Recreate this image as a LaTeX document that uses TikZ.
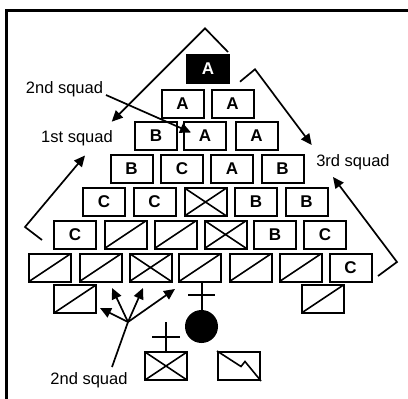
\documentclass[tikz,border=0pt]{standalone}
\usepackage{fontspec}
\setmainfont{Liberation Sans}
\usetikzlibrary{arrows.meta}
\begin{document}
\begin{tikzpicture}[x=1pt,y=-1pt,
  box/.style={draw,line width=2pt,minimum width=42pt,minimum height=28pt,inner sep=0pt,
    font=\bfseries\fontsize{17}{17}\selectfont},
  blackbox/.style={box,fill=black,text=white},
  slashbox/.style={box,path picture={\draw[line width=1.6pt] (path picture bounding box.south west) -- (path picture bounding box.north east);}},
  xbox/.style={box,path picture={\draw[line width=1.6pt] (path picture bounding box.south west) -- (path picture bounding box.north east)
      (path picture bounding box.north west) -- (path picture bounding box.south east);}},
  lbl/.style={font=\fontsize{16.5}{16.5}\selectfont,inner sep=0pt},
  brk/.style={line width=1.7pt},
  arr/.style={line width=1.7pt,-{Triangle[length=11pt,width=10pt]}},
  symline/.style={line width=2pt}
]
\useasboundingbox (0,0) rectangle (408,399);
% frame
\draw[line width=2.6pt] (6.7,399) -- (6.7,10.5) -- (408,10.5);
% row 1
\node[blackbox] (a0) at (208,68.5) {A};
% row 2
\node[box] (a1) at (182.5,103.5) {A};
\node[box] (a2) at (232.5,103.5) {A};
% row 3
\node[box] (b1) at (156,136) {B};
\node[box] (a3) at (205,136) {A};
\node[box] (a4) at (256.5,136) {A};
% row 4
\node[box] (b2) at (131.5,168.5) {B};
\node[box] (c1) at (182,168.5) {C};
\node[box] (a5) at (232,168.5) {A};
\node[box] (b3) at (282.5,168.5) {B};
% row 5
\node[box] (c2) at (104,202) {C};
\node[box] (c3) at (154.5,202) {C};
\node[xbox] (x1) at (205.5,202) {};
\node[box] (b4) at (256,202) {B};
\node[box] (b5) at (306.5,202) {B};
% row 6
\node[box] (c4) at (75,234.5) {C};
\node[slashbox] (s1) at (125.5,234.5) {};
\node[slashbox] (s2) at (175.5,234.5) {};
\node[xbox] (x2) at (225.5,234.5) {};
\node[box] (b6) at (275,234.5) {B};
\node[box] (c5) at (325,234.5) {C};
% row 7
\node[slashbox] (s3) at (50,267.5) {};
\node[slashbox] (s4) at (100.5,267.5) {};
\node[xbox] (x3) at (150.5,267.5) {};
\node[slashbox] (s5) at (200,267.5) {};
\node[slashbox] (s6) at (250.5,267.5) {};
\node[slashbox] (s7) at (300.5,267.5) {};
\node[box] (c6) at (350.5,267.5) {C};
% row 8
\node[slashbox] (s8) at (75,299) {};
\node[slashbox] (s9) at (322.5,299) {};
% platoon leader circle
\node[circle,fill=black,minimum size=33pt,inner sep=0pt] (pl) at (201.5,326.5) {};
\draw[symline] (pl.north) -- (pl.north |- s5.south);
\draw[symline] (188,295) -- (215,295);
% bottom boxes
\node[xbox] (xb) at (166,366) {};
\draw[symline] (xb.north) -- (166,322);
\draw[symline] (152,337) -- (180,337);
\node[box] (sg) at (239,366) {};
\draw[line width=1.6pt] (sg.north west) -- ++(24,15.5) -- ++(4,-5) -- (sg.south east);
% labels
\node[lbl] (l2a) at (64.5,89) {2nd squad};
\node[lbl] (l1) at (77,138.5) {1st squad};
\node[lbl] (l3) at (353,162) {3rd squad};
\node[lbl] (l2b) at (89,380) {2nd squad};
% brackets
\coordinate (t1) at (228,52);
\coordinate (t2) at (205,28.3);
\coordinate (t3) at (111.7,121.7);
\draw[arr] (t1) -- (t2) -- (t3);
\coordinate (r1) at (240,81.7);
\coordinate (r2) at (255,69.3);
\coordinate (r3) at (311.7,145);
\draw[arr] (r1) -- (r2) -- (r3);
\coordinate (ll1) at (42,240);
\coordinate (ll2) at (25,227);
\coordinate (ll3) at (85,155.5);
\draw[arr] (ll1) -- (ll2) -- (ll3);
\coordinate (rl1) at (378,276);
\coordinate (rl2) at (397,262);
\coordinate (rl3) at (333,177);
\draw[arr] (rl1) -- (rl2) -- (rl3);
% 2nd squad arrow (top)
\coordinate (q1) at (106,95);
\coordinate (q2) at (191,132.5);
\draw[arr] (q1) -- (q2);
% fan
\coordinate (f0) at (112,367);
\coordinate (fp) at (128,322);
\draw[brk] (f0) -- (fp);
\coordinate (fa) at (100,308);
\coordinate (fb) at (112,288);
\coordinate (fc) at (143,288);
\coordinate (fd) at (175,289);
\draw[arr] (fp) -- (fa);
\draw[arr] (fp) -- (fb);
\draw[arr] (fp) -- (fc);
\draw[arr] (fp) -- (fd);
\end{tikzpicture}
\end{document}
